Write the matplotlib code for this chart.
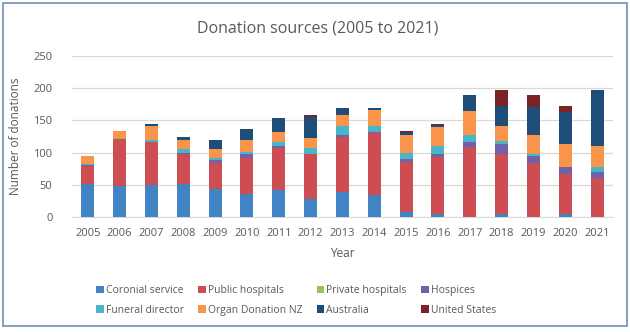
import matplotlib
matplotlib.use("Agg")
import matplotlib.pyplot as plt
import numpy as np
from matplotlib.patches import Rectangle

plt.rcParams["font.family"] = ["Open Sans", "DejaVu Sans"]

# Data (donations per source, per year)
years = [str(y) for y in range(2005, 2022)]
coronial = [51, 48, 49, 51, 43, 36, 41, 28, 38, 34, 8, 4, 0, 5, 0, 5, 0]
public = [28, 73, 67, 46, 40, 56, 66, 69, 86, 97, 77, 89, 109, 92, 83, 61, 61]
private = [0, 2, 0, 0, 0, 0, 0, 0, 0, 0, 0, 0, 0, 0, 0, 0, 0]
hospices = [1, 0, 1, 3, 5, 5, 3, 1, 3, 1, 5, 5, 7, 17, 11, 11, 8]
funeral = [2, 0, 3, 5, 4, 4, 6, 9, 14, 9, 10, 12, 11, 4, 3, 0, 8]
organ_nz = [12, 10, 22, 15, 13, 19, 16, 16, 18, 25, 27, 29, 37, 24, 30, 37, 33]
australia = [0, 0, 3, 4, 14, 17, 22, 32, 11, 4, 5, 4, 25, 31, 44, 49, 88]
united_states = [0, 0, 0, 0, 0, 0, 0, 3, 0, 0, 2, 2, 0, 25, 18, 9, 0]

series = [
    ("Coronial service", coronial, "#4283C4"),
    ("Public hospitals", public, "#CD4E52"),
    ("Private hospitals", private, "#95C25A"),
    ("Hospices", hospices, "#7161AA"),
    ("Funeral director", funeral, "#47B6C8"),
    ("Organ Donation NZ", organ_nz, "#F8954A"),
    ("Australia", australia, "#1E4D78"),
    ("United States", united_states, "#7A2329"),
]

TEXT = "#595959"

fig = plt.figure(figsize=(6.3, 3.32), dpi=100)
ax = fig.add_axes([0.114, 0.347, 0.859, 0.484])

x = np.arange(len(years))
bottom = np.zeros(len(years))
for label, vals, color in series:
    vals = np.array(vals, dtype=float)
    ax.bar(x, vals, width=0.41, bottom=bottom, color=color, label=label, zorder=3)
    bottom += vals

ax.set_xlim(-0.5, len(years) - 0.5)
ax.set_ylim(0, 250)
ax.set_yticks(range(0, 251, 50))
ax.set_xticks(x)
ax.set_xticklabels(years)
ax.yaxis.grid(True, color="#D9D9D9", lw=0.9, zorder=0)
for s in ["top", "right", "left"]:
    ax.spines[s].set_visible(False)
ax.spines["bottom"].set_color("#D9D9D9")
ax.tick_params(axis="both", length=0, colors=TEXT, labelsize=8)
ax.tick_params(axis="y", pad=14)
ax.tick_params(axis="x", pad=8)

ax.set_xlabel("Year", color=TEXT, fontsize=8.5, labelpad=6)
ax.set_ylabel("Number of donations", color=TEXT, fontsize=8.5, labelpad=8)
fig.text(0.505, 0.915, "Donation sources (2005 to 2021)", ha="center",
         va="center", color=TEXT, fontsize=11.5)

# legend fills column-wise, so interleave to get the row-wise order
handles, labels = ax.get_legend_handles_labels()
order = [0, 4, 1, 5, 2, 6, 3, 7]
fig.legend([handles[i] for i in order], [labels[i] for i in order],
           loc="center", ncol=4, bbox_to_anchor=(0.47, 0.095),
           frameon=False, fontsize=7.5, labelcolor=TEXT, handlelength=0.7,
           handleheight=0.7, handletextpad=0.2, columnspacing=1.4,
           labelspacing=0.8)

# Border around the whole chart
fig.patches.append(Rectangle((0.005, 0.018), 0.990, 0.972, transform=fig.transFigure,
                             fill=False, edgecolor="#6F8FB5", lw=1.2))

fig.savefig("out.png", dpi=100, facecolor="white")
